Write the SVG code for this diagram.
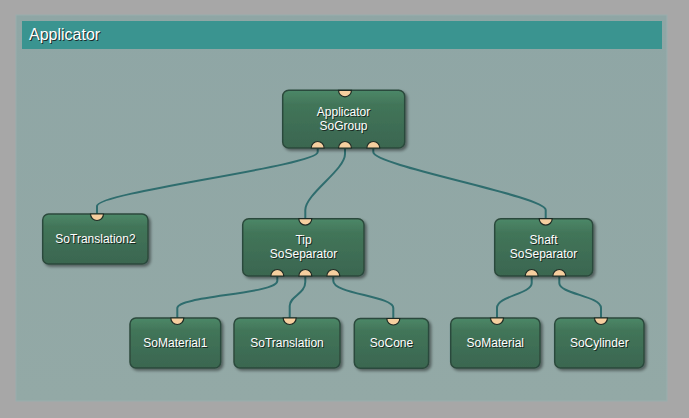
<svg xmlns="http://www.w3.org/2000/svg" width="689" height="418" viewBox="0 0 689 418">
<defs>
<linearGradient id="ng" x1="0" y1="0" x2="0" y2="1">
<stop offset="0" stop-color="#4c8868"/>
<stop offset="0.25" stop-color="#427559"/>
<stop offset="1" stop-color="#3a6650"/>
</linearGradient>
<linearGradient id="pg" x1="0" y1="0" x2="0" y2="1">
<stop offset="0" stop-color="#8fa6a5"/>
<stop offset="1" stop-color="#93a9a6"/>
</linearGradient>
<filter id="sh" x="-10%" y="-10%" width="130%" height="140%">
<feGaussianBlur in="SourceAlpha" stdDeviation="1.5"/>
<feOffset dx="2" dy="2" result="b"/>
<feComponentTransfer><feFuncA type="linear" slope="0.45"/></feComponentTransfer>
<feMerge><feMergeNode/><feMergeNode in="SourceGraphic"/></feMerge>
</filter>
</defs>
<style>
.node{fill:url(#ng);stroke:#2c4a3c;stroke-width:1.5;filter:url(#sh)}
.port{fill:#f6cf9f;stroke:#1e2a24;stroke-width:1.2}
.t{font-family:"Liberation Sans",Arial,sans-serif;font-size:12px;fill:#ffffff;text-anchor:middle}
.ts{font-family:"Liberation Sans",Arial,sans-serif;font-size:12px;fill:#1a2a22;text-anchor:middle}
.c{fill:none;stroke:#2f6d6e;stroke-width:2}
.h{font-family:"Liberation Sans",Arial,sans-serif;font-size:16px}
</style>
<rect width="689" height="418" fill="#a7a7a7"/>
<rect x="16" y="15" width="651" height="386" fill="url(#pg)" stroke="#9aaeae" stroke-width="1"/>
<rect x="22" y="21" width="640" height="28" fill="#3a9490"/>
<text x="30" y="41" class="h" fill="#1a2a2a">Applicator</text>
<text x="29" y="40" class="h" fill="#ffffff">Applicator</text>

<g id="connectors">
<path class="c" d="M317.7,148 V152 C317.7,166 97,192 97,206 V214"/>
<path class="c" d="M345,148 V154 C345,170 305.3,194 305.3,210 V219"/>
<path class="c" d="M373.3,148 V152 C373.3,166 545.7,196 545.7,210 V219"/>
<path class="c" d="M277.3,276 V281 C277.3,294 177.3,296 177.3,308 V318"/>
<path class="c" d="M305.3,276 V282 C305.3,294 289.7,296 289.7,306 V318"/>
<path class="c" d="M333.3,276 V281 C333.3,294 393.3,296 393.3,308 V318"/>
<path class="c" d="M531.7,276 V283 C531.7,294 497,296 497,308 V318"/>
<path class="c" d="M559.3,276 V283 C559.3,294 601,296 601,308 V318"/>
</g>

<g id="n-applicator">
<rect class="node" x="282.7" y="90.3" width="122" height="57.7" rx="6"/>
<path class="port" d="M338.5,90.3 A6.5,6.5 0 0 0 351.5,90.3 Z"/>
<path class="port" d="M311.2,148 A6.5,6.5 0 0 1 324.2,148 Z"/>
<path class="port" d="M338.5,148 A6.5,6.5 0 0 1 351.5,148 Z"/>
<path class="port" d="M366.8,148 A6.5,6.5 0 0 1 379.8,148 Z"/>
<text class="ts" x="344.5" y="116.5">Applicator</text><text class="t" x="343.5" y="115.5">Applicator</text>
<text class="ts" x="344.5" y="130.5">SoGroup</text><text class="t" x="343.5" y="129.5">SoGroup</text>
</g>

<g id="n-sotranslation2">
<rect class="node" x="42.7" y="214" width="105.3" height="50" rx="6"/>
<path class="port" d="M90.5,214 A6.5,6.5 0 0 0 103.5,214 Z"/>
<text class="ts" x="96.5" y="243.5">SoTranslation2</text><text class="t" x="95.5" y="242.5">SoTranslation2</text>
</g>

<g id="n-tip">
<rect class="node" x="242.7" y="218.7" width="121.3" height="57.3" rx="6"/>
<path class="port" d="M298.8,218.7 A6.5,6.5 0 0 0 311.8,218.7 Z"/>
<path class="port" d="M270.8,276 A6.5,6.5 0 0 1 283.8,276 Z"/>
<path class="port" d="M298.8,276 A6.5,6.5 0 0 1 311.8,276 Z"/>
<path class="port" d="M326.8,276 A6.5,6.5 0 0 1 339.8,276 Z"/>
<text class="ts" x="304.5" y="244.5">Tip</text><text class="t" x="303.5" y="243.5">Tip</text>
<text class="ts" x="304.5" y="258.5">SoSeparator</text><text class="t" x="303.5" y="257.5">SoSeparator</text>
</g>

<g id="n-shaft">
<rect class="node" x="494.7" y="218.7" width="98" height="57.3" rx="6"/>
<path class="port" d="M539.2,218.7 A6.5,6.5 0 0 0 552.2,218.7 Z"/>
<path class="port" d="M525.2,276 A6.5,6.5 0 0 1 538.2,276 Z"/>
<path class="port" d="M552.8,276 A6.5,6.5 0 0 1 565.8,276 Z"/>
<text class="ts" x="544.5" y="244.5">Shaft</text><text class="t" x="543.5" y="243.5">Shaft</text>
<text class="ts" x="544.5" y="258.5">SoSeparator</text><text class="t" x="543.5" y="257.5">SoSeparator</text>
</g>

<g id="n-somaterial1">
<rect class="node" x="130" y="318" width="90.7" height="50" rx="6"/>
<path class="port" d="M170.8,318 A6.5,6.5 0 0 0 183.8,318 Z"/>
<text class="ts" x="176.3" y="347.5">SoMaterial1</text><text class="t" x="175.3" y="346.5">SoMaterial1</text>
</g>

<g id="n-sotranslation">
<rect class="node" x="234" y="318" width="106" height="50" rx="6"/>
<path class="port" d="M283.2,318 A6.5,6.5 0 0 0 296.2,318 Z"/>
<text class="ts" x="288" y="347.5">SoTranslation</text><text class="t" x="287" y="346.5">SoTranslation</text>
</g>

<g id="n-socone">
<rect class="node" x="354.3" y="318.5" width="74.3" height="49.8" rx="6"/>
<path class="port" d="M386.8,318.5 A6.5,6.5 0 0 0 399.8,318.5 Z"/>
<text class="ts" x="392.5" y="347.5">SoCone</text><text class="t" x="391.5" y="346.5">SoCone</text>
</g>

<g id="n-somaterial">
<rect class="node" x="450.7" y="318" width="89.3" height="50" rx="6"/>
<path class="port" d="M490.5,318 A6.5,6.5 0 0 0 503.5,318 Z"/>
<text class="ts" x="496.3" y="347.5">SoMaterial</text><text class="t" x="495.3" y="346.5">SoMaterial</text>
</g>

<g id="n-socylinder">
<rect class="node" x="554.7" y="318" width="89.3" height="50" rx="6"/>
<path class="port" d="M594.5,318 A6.5,6.5 0 0 0 607.5,318 Z"/>
<text class="ts" x="600.3" y="347.5">SoCylinder</text><text class="t" x="599.3" y="346.5">SoCylinder</text>
</g>
</svg>
